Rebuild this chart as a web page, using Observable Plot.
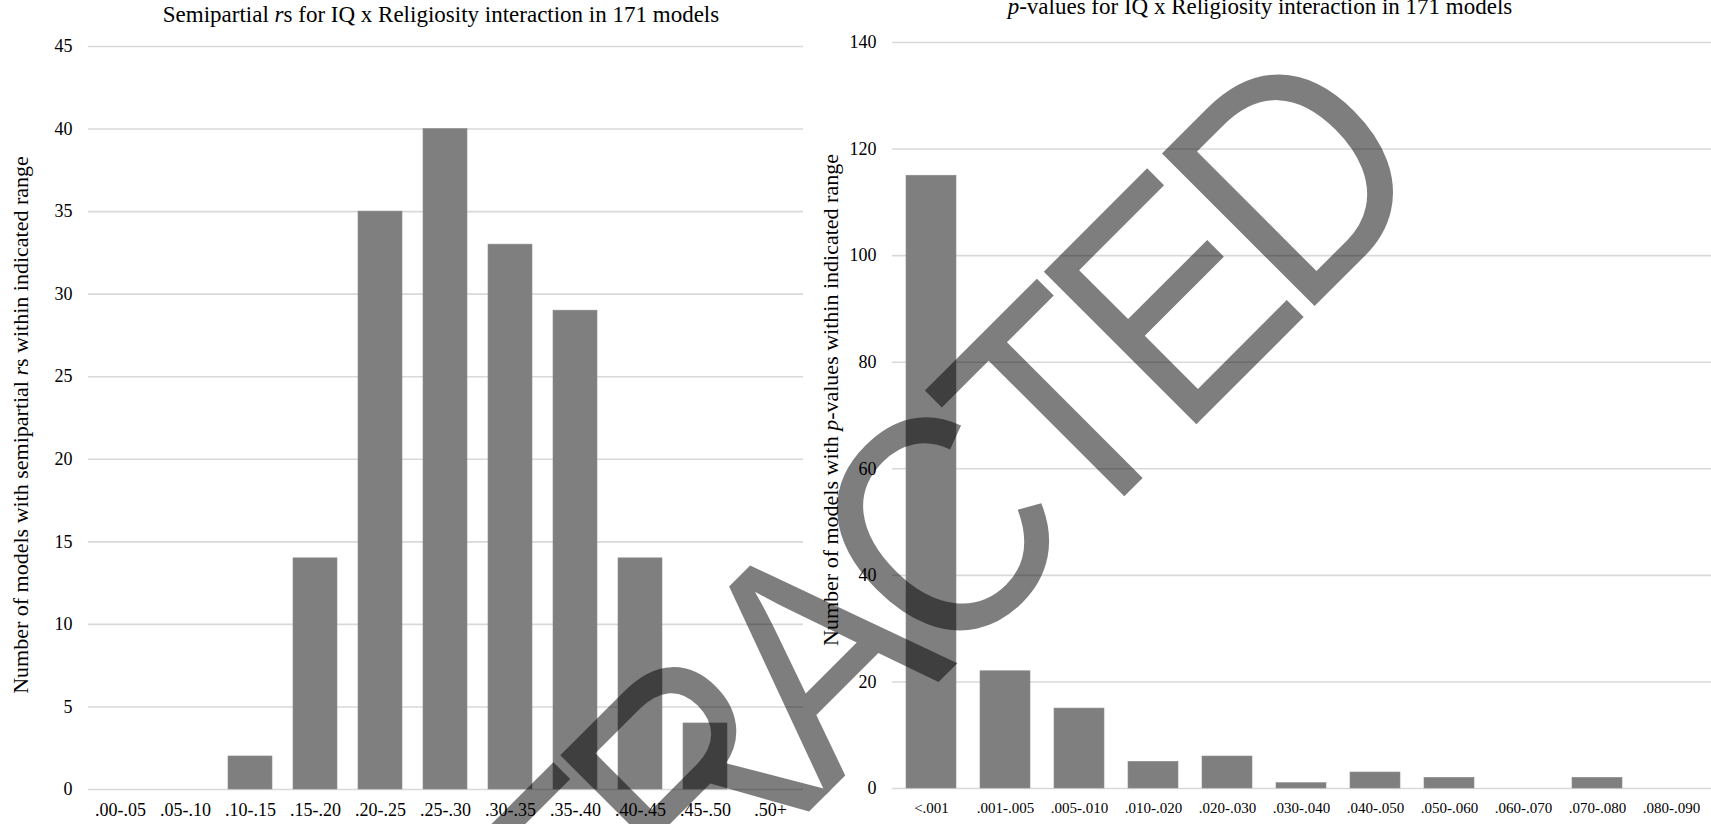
<!DOCTYPE html>
<html><head><meta charset="utf-8">
<script src="https://cdn.jsdelivr.net/npm/d3@7"></script>
<script src="https://cdn.jsdelivr.net/npm/@observablehq/plot@0.6"></script>
<style>
html,body{margin:0;padding:0;background:#fff;overflow:hidden}
#wrap{position:relative;width:1711px;height:824px;overflow:hidden;font-family:"Liberation Serif","Times New Roman",serif;color:#000}
.abs{position:absolute;white-space:nowrap;line-height:1}
.chart{position:absolute;top:0}
</style></head><body><div id="wrap"></div>
<script>
// ---- data ----
const rCategories = [".00-.05", ".05-.10", ".10-.15", ".15-.20", ".20-.25", ".25-.30", ".30-.35", ".35-.40", ".40-.45", ".45-.50", ".50+"];
const rCounts = [0, 0, 2, 14, 35, 40, 33, 29, 14, 4, 0];
const rTicks = [0, 5, 10, 15, 20, 25, 30, 35, 40, 45];

const pCategories = ["<.001", ".001-.005", ".005-.010", ".010-.020", ".020-.030", ".030-.040", ".040-.050", ".050-.060", ".060-.070", ".070-.080", ".080-.090"];
const pCounts = [115, 22, 15, 5, 6, 1, 3, 2, 0, 2, 0];
const pTicks = [0, 20, 40, 60, 80, 100, 120, 140];

const watermarkText = "RETRACTED";

// ---- build ----
const wrap = document.getElementById("wrap");
const GRID = "#d9d9d9", BAR = "#7f7f7f";

function chart({cats, counts, ticks, max, width, mL, mR, mT, mB, xFont}) {
  const data = cats.map((c, i) => ({cat: c, n: counts[i]}));
  return Plot.plot({
    width, height: 824,
    marginLeft: mL, marginRight: mR, marginTop: mT, marginBottom: mB,
    style: {fontFamily: '"Liberation Serif","Times New Roman",serif', fontSize: "18px", background: "transparent", color: "#000", overflow: "visible"},
    x: {domain: cats, paddingInner: 0.32, paddingOuter: 0.16},
    y: {domain: [0, max]},
    marks: [
      Plot.gridY(ticks, {stroke: GRID, strokeOpacity: 1, strokeWidth: 1.6}),
      Plot.barY(data, {x: "cat", y: "n", fill: BAR, stroke: "#8c8c8c", strokeWidth: 0.6}),
      Plot.axisY(ticks, {tickSize: 0, tickPadding: 16, label: null, fontSize: 18}),
      Plot.axisX({tickSize: 0, tickPadding: 14, label: null, fontSize: xFont})
    ]
  });
}

const left = chart({cats: rCategories, counts: rCounts, ticks: rTicks, max: 45, width: 820, mL: 88, mR: 17, mT: 46, mB: 35, xFont: 18});
left.classList.add("chart"); left.style.left = "0px";
wrap.appendChild(left);

const right = chart({cats: pCategories, counts: pCounts, ticks: pTicks, max: 140, width: 891, mL: 72, mR: 0, mT: 42, mB: 36, xFont: 15});
right.classList.add("chart"); right.style.left = "820px";
wrap.appendChild(right);

function addText(html, css) {
  const d = document.createElement("div");
  d.className = "abs";
  d.innerHTML = html;
  Object.assign(d.style, css);
  wrap.appendChild(d);
  return d;
}

// titles
addText("Semipartial <i>r</i>s for IQ x Religiosity interaction in 171 models",
  {left: "441px", top: "3px", fontSize: "23px", transform: "translateX(-50%)"});
addText("<i>p</i>-values for IQ x Religiosity interaction in 171 models",
  {left: "1260px", top: "-5px", fontSize: "23px", transform: "translateX(-50%)"});

// y-axis labels
addText("Number of models with semipartial <i>r</i>s within indicated range",
  {left: "21px", top: "425px", fontSize: "22px", transform: "translate(-50%,-50%) rotate(-90deg)"});
addText("Number of models with <i>p</i>-values within indicated range",
  {left: "831px", top: "400px", fontSize: "22px", transform: "translate(-50%,-50%) rotate(-90deg)"});

// watermark (drawn as one group at half opacity so overlapping glyphs don't darken)
addText(watermarkText,
  {left: "808px", top: "659px", fontSize: "280px", letterSpacing: "-0.07em", fontFamily: '"Liberation Sans",Arial,sans-serif',
   color: "#000", opacity: "0.5", transform: "translate(-50%,-50%) rotate(-45deg) scaleY(1.12)", pointerEvents: "none"});
</script></body></html>
